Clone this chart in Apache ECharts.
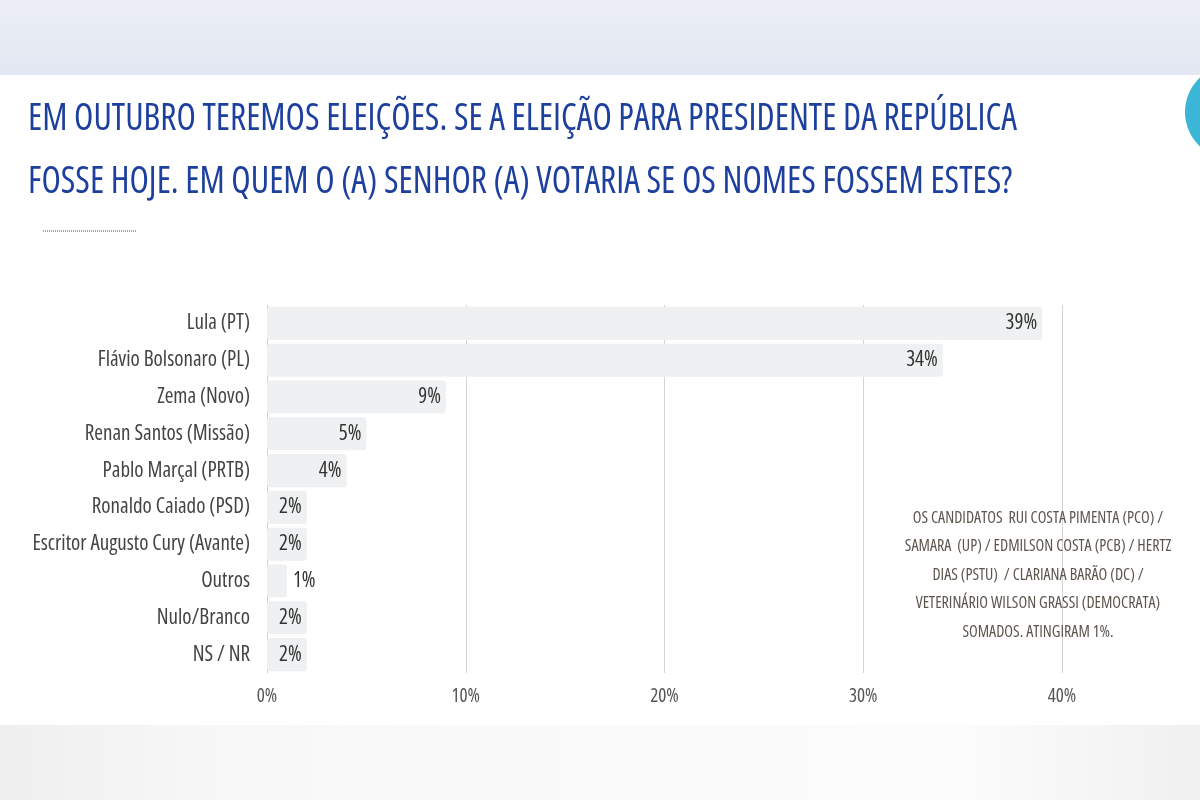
<!DOCTYPE html>
<html lang="pt">
<head>
    <meta charset="UTF-8">
    <script src="https://cdn.jsdelivr.net/npm/echarts@6/dist/echarts.min.js"></script>
    <title>Pesquisa presidente</title>
    <style>
        html, body {
            width: 100%;
            height: 100%;
            margin: 0;
            padding: 0;
            overflow: hidden;
            background: #ffffff;
        }
        #chart {
            width: 1200px;
            height: 800px;
        }
    </style>
</head>
<body>
<div id="chart"></div>
<script>
    var candidates = ['Lula (PT)', 'Flávio Bolsonaro (PL)', 'Zema (Novo)', 'Renan Santos (Missão)',
        'Pablo Marçal (PRTB)', 'Ronaldo Caiado (PSD)', 'Escritor Augusto Cury (Avante)',
        'Outros', 'Nulo/Branco', 'NS / NR'];
    var votes = [39, 34, 9, 5, 4, 2, 2, 1, 2, 2];
    var xTicks = [0, 10, 20, 30, 40];

    var titleLines = [
        'EM OUTUBRO TEREMOS ELEIÇÕES. SE A ELEIÇÃO PARA PRESIDENTE DA REPÚBLICA',
        'FOSSE HOJE. EM QUEM O (A) SENHOR (A) VOTARIA SE OS NOMES FOSSEM ESTES?'
    ];
    var noteLines = [
        'OS CANDIDATOS  RUI COSTA PIMENTA (PCO) /',
        'SAMARA  (UP) / EDMILSON COSTA (PCB) / HERTZ',
        'DIAS (PSTU)  / CLARIANA BARÃO (DC) /',
        'VETERINÁRIO WILSON GRASSI (DEMOCRATA)',
        'SOMADOS. ATINGIRAM 1%.'
    ];

    // condensed face of Open Sans, picked through the canvas font shorthand
    var family = "'Open Sans'";
    var narrow = 'condensed';

    var barData = votes.map(function (v) {
        var item = {value: v};
        // very small bars: label sits after the bar
        if (v < 2) {
            item.label = {position: 'right', distance: 6};
        }
        return item;
    });

    var chart = echarts.init(document.getElementById('chart'));
    var option = {
        backgroundColor: '#ffffff',
        animation: false,
        grid: {left: 267, right: 138, top: 305, bottom: 127, outerBoundsMode: 'none', containLabel: false},
        xAxis: {
            type: 'value',
            min: 0,
            max: 40,
            interval: 10,
            axisLine: {show: false},
            axisTick: {show: false},
            splitLine: {lineStyle: {color: '#d4d4d4', width: 1}},
            axisLabel: {
                color: '#555',
                fontFamily: family,
                fontStyle: narrow,
                fontSize: 19,
                margin: 14,
                formatter: function (v) {
                    return xTicks.indexOf(v) >= 0 ? v + '%' : '';
                }
            }
        },
        yAxis: {
            type: 'category',
            data: candidates,
            inverse: true,
            axisLine: {lineStyle: {color: '#cfcfcf'}},
            axisTick: {show: false},
            axisLabel: {
                color: '#444',
                fontFamily: family,
                fontStyle: narrow,
                fontSize: 21,
                margin: 17
            }
        },
        series: [{
            type: 'bar',
            data: barData,
            barCategoryGap: '10%',
            itemStyle: {color: '#eef0f1', borderRadius: 3},
            label: {
                show: true,
                position: 'insideRight',
                distance: 5,
                color: '#333',
                fontFamily: family,
                fontStyle: narrow,
                fontSize: 21,
                formatter: '{c}%'
            },
            z: 3
        }],
        graphic: [
            {
                type: 'rect',
                shape: {x: 0, y: 0, width: 1200, height: 75},
                style: {
                    fill: new echarts.graphic.LinearGradient(0, 0, 0, 1, [
                        {offset: 0, color: '#eceff6'},
                        {offset: 1, color: '#e3e7f1'}
                    ])
                },
                z: 1
            },
            {
                type: 'rect',
                shape: {x: 0, y: 725, width: 1200, height: 75},
                style: {
                    fill: new echarts.graphic.LinearGradient(0, 0, 1, 0, [
                        {offset: 0, color: '#efefef'},
                        {offset: 0.2, color: '#f8f8f8'},
                        {offset: 0.8, color: '#fcfcfc'},
                        {offset: 1, color: '#f0f0f0'}
                    ])
                },
                z: 1
            },
            {
                type: 'circle',
                shape: {cx: 1232, cy: 112, r: 47},
                style: {fill: '#3cb6d6'},
                z: 2
            },
            {
                type: 'text',
                x: 28,
                y: 88,
                scaleX: 0.935,
                style: {
                    text: titleLines.join('\n'),
                    fill: '#1d3f9e',
                    font: narrow + ' 38px ' + family,
                    lineHeight: 63,
                    shadowColor: 'rgba(0,0,0,0.18)',
                    shadowBlur: 6,
                    shadowOffsetY: 3
                },
                z: 5
            },
            {
                type: 'line',
                shape: {x1: 43, y1: 231, x2: 137, y2: 231},
                style: {stroke: '#2a4fb0', lineWidth: 1, lineDash: [1, 1]},
                z: 5
            },
            {
                type: 'text',
                x: 1038,
                y: 504,
                style: {
                    text: noteLines.join('\n'),
                    fill: '#5c554e',
                    font: narrow + ' 16px ' + family,
                    align: 'center',
                    lineHeight: 28.5
                },
                z: 5
            }
        ]
    };
    chart.setOption(option);
</script>
</body>
</html>
